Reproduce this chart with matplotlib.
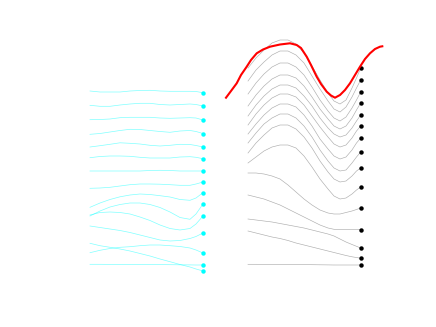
import numpy as np
import matplotlib
matplotlib.use("Agg")
import matplotlib.pyplot as plt

# Coordinates (x to the right, y downwards)

# ---- left panel: cyan traces ----
left_x = [90, 100, 110, 120, 130, 140, 150, 160, 170, 180, 190, 196, 203]
cyan_1 = [91, 92, 92, 92, 91, 90.5, 90.3, 91, 91.3, 91.3, 91.3, 91.5, 92.7]
cyan_2 = [105.3, 106.3, 106.3, 105, 104, 103.3, 103.3, 104.5, 105, 104.5, 104, 104.5, 106]
cyan_3 = [119.7, 119.5, 119, 117.7, 117.3, 117.3, 117.3, 118, 118.3, 118, 117.7, 118, 120]
cyan_4 = [134.3, 133.5, 132, 130.5, 129.3, 129.5, 130.5, 131.5, 132.3, 131, 130.5, 131.5, 133.5]
cyan_5 = [147, 145.7, 144.3, 142.8, 143.3, 144, 145.3, 146, 145.3, 144.3, 144.5, 145.5, 147]
cyan_6 = [157.7, 156.5, 156, 156, 156.3, 157.3, 158, 158, 158, 157, 156.7, 157.3, 158.7]
cyan_7 = [171, 171, 171, 171, 171, 171, 170.5, 170.3, 170.5, 171, 171, 171, 171]
cyan_8 = [188.3, 188, 187.3, 186, 184.7, 184, 184, 184.2, 184.7, 185.3, 185.3, 184, 182]
cyan_9 = [207.3, 203, 199.5, 196.8, 195, 194, 194.5, 195.7, 197, 199.5, 200.3, 198, 192.7]
cyan_10 = [216, 211, 207, 204.5, 203, 203, 204.5, 207.5, 212, 217.5, 219.3, 214, 204]
cyan_11 = [215, 212.5, 212, 212.5, 214, 217, 220.5, 225, 228.5, 230, 228.5, 224, 216]
cyan_12 = [226, 227.5, 229, 230.5, 232.5, 235, 237.5, 240, 241, 240.5, 238.5, 236.5, 233]
cyan_13 = [252.7, 250.3, 248.5, 247.3, 246.7, 245.7, 245, 245, 245.7, 246.5, 248, 250, 253]
cyan_14 = [264.3, 264.3, 264.4, 264.4, 264.5, 264.5, 264.6, 264.6, 264.7, 264.8, 264.9, 265, 265]
cyan_15 = [243.3, 245.7, 247.3, 249, 251, 253.5, 256, 259, 261.7, 264.5, 267, 269, 271]

# ---- right panel: gray traces ----
right_x = [248, 256, 264, 272, 280, 288, 296, 304, 312, 320, 328, 334, 340, 346, 352, 356.5, 360.7]
gray_1 = [68, 58, 50, 43, 40, 40, 44, 53, 66, 80, 93, 101, 104, 100, 88, 78, 68]
gray_2 = [81, 70, 62, 55, 51, 51, 55, 63, 76, 89, 101, 109, 112, 107, 97, 88, 80]
gray_3 = [94, 83, 74, 67, 63, 63, 67, 75, 87, 100, 111, 118, 121, 117, 108, 100, 92]
gray_4 = [106, 95, 86, 79, 75, 75, 78, 86, 97, 109, 119, 126, 129, 126, 118, 110, 103]
gray_5 = [116, 105, 96, 89, 85, 85, 88, 96, 106, 118, 128, 134, 137, 135, 128, 121, 115]
gray_6 = [125, 114, 105, 98, 94, 94, 97, 105, 116, 127, 137, 144, 147, 145, 138, 131, 126]
gray_7 = [134, 124, 115, 108, 104, 104, 107, 115, 126, 139, 149, 156, 159, 157, 150, 143, 138]
gray_8 = [143, 133, 124, 118, 114, 114, 118, 126, 137, 150, 161, 168, 171, 170, 163, 157, 152]
gray_9 = [153, 143, 135, 128, 125, 125, 129, 137, 148, 161, 172, 179, 182, 181, 176, 171, 168]
gray_10 = [163, 157, 151, 147, 145, 145, 148, 156, 167, 179, 189, 196, 199, 198, 194, 190, 187]
gray_11 = [173, 173, 174, 176, 179, 185, 192, 199, 205, 210, 213, 214, 214, 212.5, 211, 209.5, 208]
gray_12 = [195, 197, 199, 202, 205, 209, 213, 217, 221, 225, 228, 229.3, 229.5, 229.5, 229.5, 229.6, 229.7]
gray_13 = [219, 220, 221, 222, 223.5, 225, 226.5, 228, 230, 232, 234, 236, 239, 242, 244.5, 246.3, 248]
gray_14 = [231, 233, 235, 237, 238.5, 240.5, 243, 245, 247, 249, 251, 252.5, 254, 255.5, 256.8, 257.5, 258.3]
gray_15 = [264.3, 264.3, 264.4, 264.4, 264.5, 264.5, 264.6, 264.6, 264.7, 264.8, 264.9, 265, 265, 265, 265, 265, 265]

# ---- target curve (red) ----
red_x = [226, 231, 236.7, 241, 246.7, 251, 256.7, 263, 270, 280, 290, 296.7, 301, 306.7, 311,
         316.7, 321, 326.7, 331, 335, 340, 345, 350, 355, 360, 365, 370, 375, 380, 382.3]
red_y = [97.7, 91, 83.3, 75, 66.7, 60, 53.3, 49.5, 46.7, 44.5, 43.3, 45, 48, 56.7, 65,
         76.7, 84, 91.7, 95.5, 97.7, 95, 90, 83.3, 75, 66.7, 59, 53.3, 49, 46.7, 46.3]

cyan_lines = [cyan_1, cyan_2, cyan_3, cyan_4, cyan_5, cyan_6, cyan_7, cyan_8,
              cyan_9, cyan_10, cyan_11, cyan_12, cyan_13, cyan_14, cyan_15]
gray_lines = [gray_1, gray_2, gray_3, gray_4, gray_5, gray_6, gray_7, gray_8,
              gray_9, gray_10, gray_11, gray_12, gray_13, gray_14, gray_15]

fig = plt.figure(figsize=(4.36, 3.27), dpi=100)
ax = fig.add_axes([0, 0, 1, 1])

for ys in cyan_lines:
    ax.plot(left_x, ys, color='cyan', lw=0.5, alpha=0.5)
    ax.plot(left_x[-1], ys[-1], 'o', color='cyan', ms=3.2, mec='none')

for ys in gray_lines:
    ax.plot(right_x, ys, color='0.68', lw=0.45)
    ax.plot(right_x[-1], ys[-1], 'o', color='black', ms=3.2, mec='none')

ax.plot(red_x, red_y, color='red', lw=1.5)

ax.set_xlim(0, 436)
ax.set_ylim(327, 0)
ax.axis('off')

fig.savefig('out.png', dpi=100)
